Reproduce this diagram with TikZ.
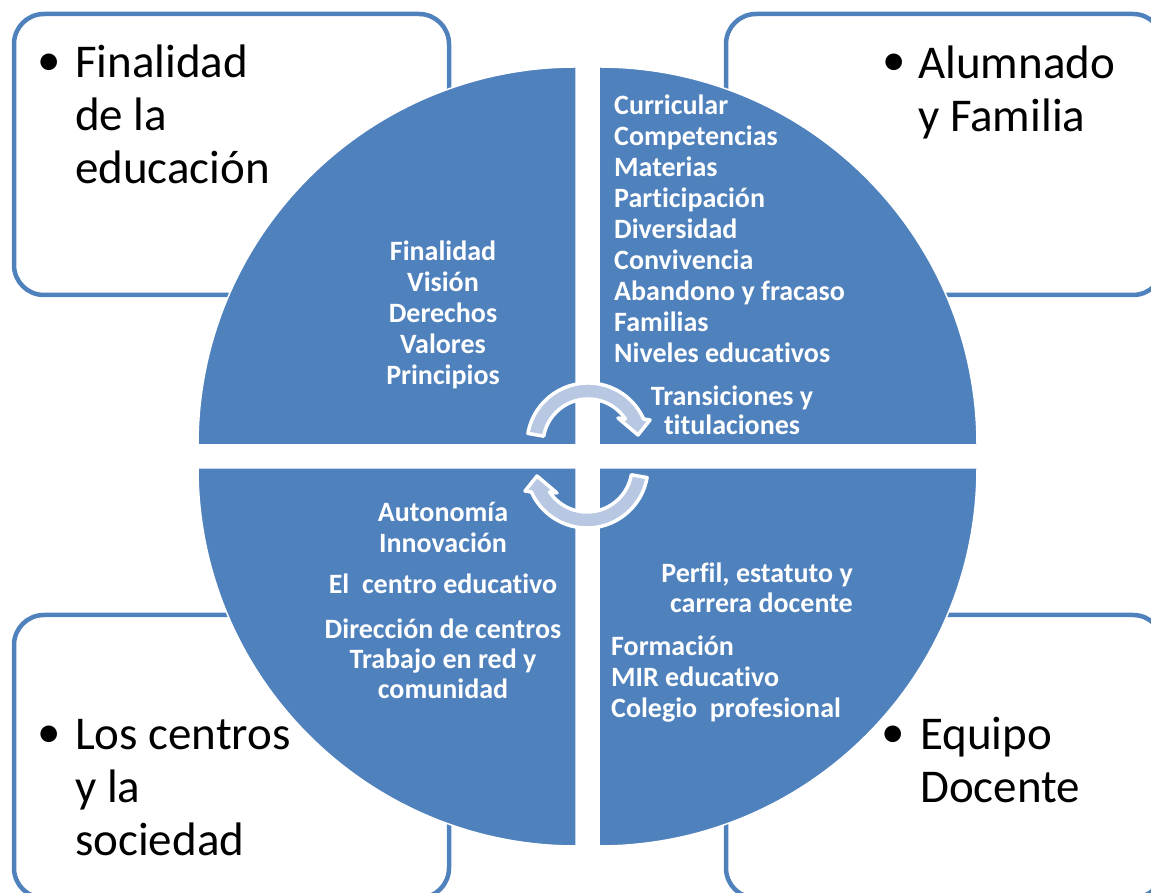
\documentclass[tikz,border=0pt]{standalone}
\usepackage{fontspec}
\setmainfont{Carlito}[Ligatures=NoCommon]
\definecolor{qblue}{RGB}{79,129,189}
\definecolor{arrfill}{RGB}{185,200,226}
\newcommand\mylines[2]{\parbox[t]{400pt}{#1#2}}
\begin{document}
\begin{tikzpicture}[x=1pt,y=1pt,
 cornerbox/.style={draw=qblue, line width=4.5pt, fill=white, rounded corners=30pt, inner sep=0pt, outer sep=0pt},
 quad/.style={fill=qblue, draw=white, line width=1.5pt},
 big/.style={font=\fontsize{47}{53}\selectfont, inner sep=0pt, text=black},
 bul/.style={font=\fontsize{47}{53}\selectfont, inner sep=0pt, text=black},
 small/.style={font=\fontsize{28}{31}\selectfont\bfseries, text=white, inner sep=0pt},
 circarrow/.style={fill=arrfill, draw=white, line width=3.5pt, line join=round}]
\useasboundingbox (0,0) rectangle (1151,893);

% corner boxes
\node[cornerbox, minimum width=435pt, minimum height=281pt] (boxTL) at (231.5,738.5) {};
\node[cornerbox, minimum width=437pt, minimum height=281pt] (boxTR) at (944.5,738.5) {};
\node[cornerbox, minimum width=435pt, minimum height=283pt] (boxBL) at (231.5,136.5) {};
\node[cornerbox, minimum width=437pt, minimum height=283pt] (boxBR) at (944.5,136.5) {};

% quadrants
\path[quad] (576,448) -- (198,448) arc[start angle=180, end angle=90, radius=378] -- cycle;
\path[quad] (599,448) -- (599,826) arc[start angle=90, end angle=0, radius=378] -- cycle;
\path[quad] (576,425) -- (198,425) arc[start angle=180, end angle=270, radius=378] -- cycle;
\path[quad] (599,425) -- (977,425) arc[start angle=0, end angle=-90, radius=378] -- cycle;

% circular arrows
\begin{scope}[shift={(588,449)}]
\path[circarrow] (170:61) arc[start angle=170, end angle=24.2, radius=61]
  -- (62,24) -- (50,9) -- (30,26) -- (33.7:45)
  arc[start angle=33.7, end angle=170, radius=45] -- cycle;
\end{scope}
\begin{scope}[rotate around={180:(587.5,437.5)}]
\begin{scope}[shift={(588,449)}]
\path[circarrow] (170:61) arc[start angle=170, end angle=24.2, radius=61]
  -- (62,24) -- (50,9) -- (30,26) -- (33.7:45)
  arc[start angle=33.7, end angle=170, radius=45] -- cycle;
\end{scope}
\end{scope}

% corner texts
\node[bul] (bTL) at (49,828) {•};
\node[big, anchor=base west] (tTL) at (75,815) {\mylines{\raggedright}{Finalidad\\de la\\educación}};
\node[bul] (bTR) at (894,828) {•};
\node[big, anchor=base west] (tTR) at (918,814) {\mylines{\raggedright}{Alumnado\\y Familia}};
\node[bul] (bBL) at (49,156) {•};
\node[big, anchor=base west] (tBL) at (75,143) {\mylines{\raggedright}{Los centros\\y la\\sociedad}};
\node[bul] (bBR) at (893,156) {•};
\node[big, anchor=base west] (tBR) at (920,143) {\mylines{\raggedright}{Equipo\\Docente}};

% quadrant texts
\node[small, anchor=base] (q1) at (443,632.5) {\mylines{\centering}{Finalidad\\Visión\\Derechos\\Valores\\Principios}};
\node[small, anchor=base west] (q2) at (614,778.5) {\mylines{\raggedright}{Curricular\\Competencias\\Materias\\Participación\\Diversidad\\Convivencia\\Abandono y fracaso\\Familias\\Niveles educativos}};
\node[small, anchor=base, font=\fontsize{28}{29}\selectfont\bfseries] (q2b) at (732,487) {\mylines{\centering}{Transiciones y\\titulaciones}};
\node[small, anchor=base] (q3a) at (443,371.5) {\mylines{\centering}{Autonomía\\Innovación}};
\node[small, anchor=base] (q3b) at (443,299) {El\ \ centro educativo};
\node[small, anchor=base, font=\fontsize{28}{30}\selectfont\bfseries] (q3c) at (443,254) {\mylines{\centering}{Dirección de centros\\Trabajo en red y\\comunidad}};
\node[small, anchor=base east, font=\fontsize{28}{30}\selectfont\bfseries] (q4a) at (853,310) {\mylines{\raggedleft}{Perfil, estatuto y\\carrera docente}};
\node[small, anchor=base west] (q4b) at (611,237.5) {\mylines{\raggedright}{Formación\\MIR educativo\\Colegio\ \ profesional}};
\end{tikzpicture}
\end{document}
